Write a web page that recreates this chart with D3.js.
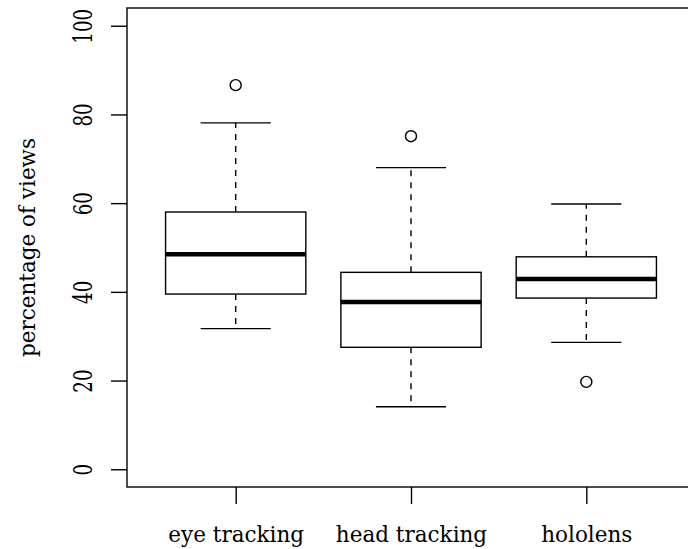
<!DOCTYPE html>
<html>
<head>
<meta charset="utf-8">
<script src="https://cdn.jsdelivr.net/npm/d3@7"></script>
<style>
	body { margin: 0; background: #fff; }
	svg { display: block; }
	text { font-family: "DejaVu Serif", serif; fill: #000; }
</style>
</head>
<body>
<div id="chart"></div>
<script>
	// values
	var categories = ["eye tracking", "head tracking", "hololens"];
	var lowerWhisker = [31.7, 14.1, 28.6];
	var q1 = [39.5, 27.5, 38.6];
	var medians = [48.5, 37.7, 42.9];
	var q3 = [58.0, 44.4, 47.9];
	var upperWhisker = [78.1, 68.0, 59.8];
	var outliers = [[86.6], [75.1], [19.7]];
	var yTicks = [0, 20, 40, 60, 80, 100];

	(function(){
		var w = 688, h = 549;
		var pLeft = 127, pRight = 695, pTop = 8, pBottom = 487;

		var svg = d3.select("#chart").append("svg")
			.attr("width", w)
			.attr("height", h);

		var x = d3.scalePoint()
			.domain(categories)
			.range([pLeft, pRight])
			.padding(0.62);

		var y = d3.scaleLinear()
			.domain([-4, 104])
			.range([pBottom, pTop]);

		var boxW = x.step() * 0.8;
		var capW = boxW * 0.5;

		var boxes = categories.map(function(c, i){
			return {
				name: c,
				lo: lowerWhisker[i],
				q1: q1[i],
				med: medians[i],
				q3: q3[i],
				hi: upperWhisker[i],
				out: outliers[i]
			};
		});

		//_axes
		var yAxis = d3.axisLeft(y)
			.tickValues(yTicks)
			.tickSize(16)
			.tickSizeOuter(0);

		var gy = svg.append("g")
			.attr("transform", "translate(" + pLeft + ",0)")
			.call(yAxis);
		gy.select(".domain").remove();
		gy.selectAll(".tick line").attr("stroke", "#000").attr("stroke-width", 1.4);
		// tick numbers are drawn tall and narrow in the original
		gy.selectAll(".tick text")
			.attr("font-size", 21.5)
			.attr("font-family", "DejaVu Serif")
			.attr("fill", "#000")
			.attr("text-anchor", "middle")
			.attr("x", 0)
			.attr("dy", 0)
			.attr("transform", "translate(-35,0) rotate(-90) scale(0.85,1.25)");

		var xAxis = d3.axisBottom(x)
			.tickSize(17)
			.tickSizeOuter(0);

		var gx = svg.append("g")
			.attr("transform", "translate(0," + pBottom + ")")
			.call(xAxis);
		gx.select(".domain").remove();
		gx.selectAll(".tick line").attr("stroke", "#000").attr("stroke-width", 1.4);
		gx.selectAll(".tick text")
			.attr("font-size", 21.5)
			.attr("font-family", "DejaVu Serif")
			.attr("fill", "#000")
			.attr("y", 54.5)
			.attr("dy", 0);

		svg.append("text")
			.attr("font-size", 21.5)
			.attr("text-anchor", "middle")
			.attr("transform", "translate(35," + ((pTop + pBottom) / 2) + ") rotate(-90)")
			.text("percentage of views");

		//_boxes
		var g = svg.selectAll("g.box")
			.data(boxes)
			.enter().append("g")
			.attr("class", "box")
			.attr("transform", function(d){ return "translate(" + x(d.name) + ",0)"; });

		// dashed whiskers
		g.append("line")
			.attr("x1", 0).attr("x2", 0)
			.attr("y1", function(d){ return y(d.q3); })
			.attr("y2", function(d){ return y(d.hi); })
			.attr("stroke", "#000").attr("stroke-width", 1.4)
			.attr("stroke-dasharray", "6,6");
		g.append("line")
			.attr("x1", 0).attr("x2", 0)
			.attr("y1", function(d){ return y(d.q1); })
			.attr("y2", function(d){ return y(d.lo); })
			.attr("stroke", "#000").attr("stroke-width", 1.4)
			.attr("stroke-dasharray", "6,6");

		// staples
		g.selectAll("line.cap")
			.data(function(d){ return [d.lo, d.hi]; })
			.enter().append("line")
			.attr("class", "cap")
			.attr("x1", -capW / 2).attr("x2", capW / 2)
			.attr("y1", function(v){ return y(v); })
			.attr("y2", function(v){ return y(v); })
			.attr("stroke", "#000").attr("stroke-width", 1.4);

		g.append("rect")
			.attr("x", -boxW / 2)
			.attr("width", boxW)
			.attr("y", function(d){ return y(d.q3); })
			.attr("height", function(d){ return y(d.q1) - y(d.q3); })
			.attr("fill", "none")
			.attr("stroke", "#000").attr("stroke-width", 1.4);

		g.append("line")
			.attr("x1", -boxW / 2).attr("x2", boxW / 2)
			.attr("y1", function(d){ return y(d.med); })
			.attr("y2", function(d){ return y(d.med); })
			.attr("stroke", "#000").attr("stroke-width", 4.5);

		g.selectAll("circle")
			.data(function(d){ return d.out; })
			.enter().append("circle")
			.attr("cx", 0)
			.attr("cy", function(v){ return y(v); })
			.attr("r", 5.5)
			.attr("fill", "none")
			.attr("stroke", "#000").attr("stroke-width", 1.4);

		//_plot frame, right side runs off the page like the original
		svg.append("rect")
			.attr("x", pLeft)
			.attr("y", pTop)
			.attr("width", pRight - pLeft)
			.attr("height", pBottom - pTop)
			.attr("fill", "none")
			.attr("stroke", "#000")
			.attr("stroke-width", 1.4);
	})();
</script>
</body>
</html>
